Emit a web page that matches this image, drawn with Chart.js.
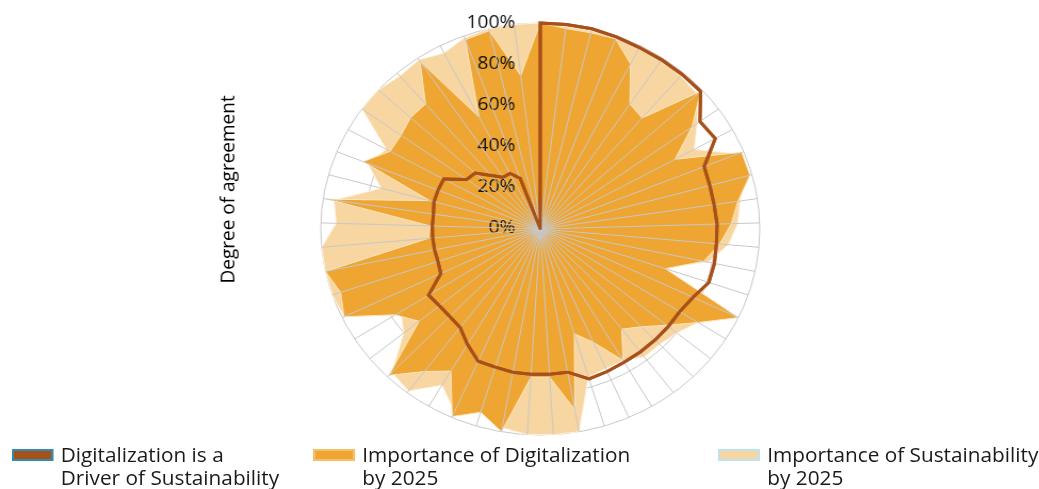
<!DOCTYPE html>
<html>
<head>
<meta charset="utf-8">
<script src="https://cdn.jsdelivr.net/npm/chart.js@4.4.1/dist/chart.umd.min.js"></script>
<style>
  html, body { margin: 0; padding: 0; background: #fff; overflow: hidden; }
  #stage { position: absolute; left: 0; top: 0; width: 975px; height: 489px; transform: scaleX(1.0656); transform-origin: 0 0; }
  #chart { position: absolute; left: 0; top: 0; }
  .lg-box { position: absolute; top: 449px; width: 35px; height: 8px; border: 2px solid; }
  .lg-text { position: absolute; top: 443px; font: 19.5px 'Open Sans'; line-height: 23px; color: #1a1a1a; white-space: nowrap; }
</style>
</head>
<body>
<div id="stage">
  <canvas id="chart" width="975" height="489"></canvas>
  <div id="legend"></div>
</div>
<script>
// 53 statements around the circle (labels are not printed on the chart)
const categories = ['S1','S2','S3','S4','S5','S6','S7','S8','S9','S10','S11','S12','S13','S14','S15','S16','S17','S18','S19','S20',
  'S21','S22','S23','S24','S25','S26','S27','S28','S29','S30','S31','S32','S33','S34','S35','S36','S37','S38','S39','S40',
  'S41','S42','S43','S44','S45','S46','S47','S48','S49','S50','S51','S52','S53'];

const driverValues = [100,100,100,99.5,99,99,99,99,89.5,91,80.5,80,80,80.5,80.5,81,81,77,75,75,
  75,75,75,75.5,76,70.5,70.5,70.5,70.5,70,70,65,60,59,59,60,50,49,49,49,
  49,49,50,50,50,41,40,34,30,30,26,0,0];

const digitalValues = [100,98,98,98.5,90,73,71,99,85,70,99,99,91,87,82,76,60,100,85,74,
  66,61,74,60,53,89,72,72,100,93,99.5,80,87,99,71,78,99,96,100,51,
  50,98,52,87,78,78,80,80,98,61,98,99,75];

const sustainValues = [100,99,99,99,99,99,98,97,88,80,97,97,92,90,86,78,58,98,85,80,
  78,78,74,74,75,100,100,100,98,93,97,88,99,97,80,75,99,100,100,100,
  93,95,75,85,80,100,100,98,99,96,99,100,100];

const seriesNames = ['Digitalization is a Driver of Sustainability', 'Importance of Digitalization by 2025', 'Importance of Sustainability by 2025'];
const legendLines = [['Digitalization is a', 'Driver of Sustainability'], ['Importance of Digitalization', 'by 2025'], ['Importance of Sustainability', 'by 2025']];
const tickValues = [0, 20, 40, 60, 80, 100];

const colors = {
  driver: '#A8501A',
  digital: '#EFA532',
  sustain: '#F8D6A2',
  grid: '#c8c8c8'
};
const legendBorders = ['#2F8DB0', '#F5C06A', '#BFE3EE'];
const legendFills = [colors.driver, colors.digital, colors.sustain];
const legendX = [11, 294, 674];

// html legend, two lines per entry
const legendEl = document.getElementById('legend');
legendLines.forEach((lines, i) => {
  const box = document.createElement('div');
  box.className = 'lg-box';
  box.style.left = legendX[i] + 'px';
  box.style.background = legendFills[i];
  box.style.borderColor = legendBorders[i];
  legendEl.appendChild(box);
  const txt = document.createElement('div');
  txt.className = 'lg-text';
  txt.style.left = (legendX[i] + 46) + 'px';
  txt.innerHTML = lines.join('<br>');
  legendEl.appendChild(txt);
});

// redraw the brown line above the spokes
const lineOnTop = {
  id: 'lineOnTop',
  afterDraw(chart) {
    chart.getDatasetMeta(0).controller.draw();
  }
};

const tickFont = { family: 'Open Sans', size: 18 };

new Chart(document.getElementById('chart'), {
  type: 'radar',
  data: {
    labels: categories,
    datasets: [
      { label: seriesNames[0], data: driverValues, rAxisID: 'r', fill: false,
        borderColor: colors.driver, borderWidth: 3, backgroundColor: 'transparent', pointRadius: 0 },
      { label: seriesNames[1], data: digitalValues, rAxisID: 'r', fill: true,
        backgroundColor: colors.digital, borderColor: '#FCE6BC', borderWidth: 1, pointRadius: 0 },
      { label: seriesNames[2], data: sustainValues, rAxisID: 'r', fill: true,
        backgroundColor: colors.sustain, borderColor: '#FFF2DC', borderWidth: 1, pointRadius: 0 }
    ]
  },
  options: {
    responsive: false,
    animation: false,
    devicePixelRatio: 1,
    layout: { padding: { top: 13.5, bottom: 44.5, left: 0, right: 205 } },
    elements: { line: { tension: 0 } },
    scales: {
      r: {
        type: 'radialLinear',
        min: -0.4, max: 100,
        grid: { circular: true, color: colors.grid, lineWidth: 1, z: -1 },
        angleLines: { display: false },
        pointLabels: { display: false },
        afterBuildTicks: (scale) => {
          scale.ticks = [{ value: -0.4 }].concat(tickValues.map(v => ({ value: v })));
        },
        ticks: {
          stepSize: 20, z: 1,
          showLabelBackdrop: false, backdropPadding: 0,
          font: tickFont, color: '#111',
          callback: (v) => v < 0 ? '' : v + '%' + '\u2007'.repeat(String(v).length + 6)
        }
      },
      rTop: {
        type: 'radialLinear', axis: 'r',
        min: -0.4, max: 100,
        grid: { display: false, z: 1 },
        angleLines: { display: true, color: colors.grid, lineWidth: 1 },
        pointLabels: { display: false },
        ticks: { stepSize: 20, showLabelBackdrop: false, backdropPadding: 0, font: tickFont, color: 'rgba(0,0,0,0)' }
      }
    },
    plugins: {
      legend: { display: false },
      tooltip: { enabled: false },
      title: {
        display: true, position: 'left',
        text: '\u2003\u2003\u2003\u2003\u2009Degree of agreement',
        font: { family: 'Open Sans', size: 19, weight: 'normal' },
        color: '#000',
        padding: { top: 203, bottom: 20 }
      }
    }
  },
  plugins: [lineOnTop]
});
</script>
</body>
</html>
